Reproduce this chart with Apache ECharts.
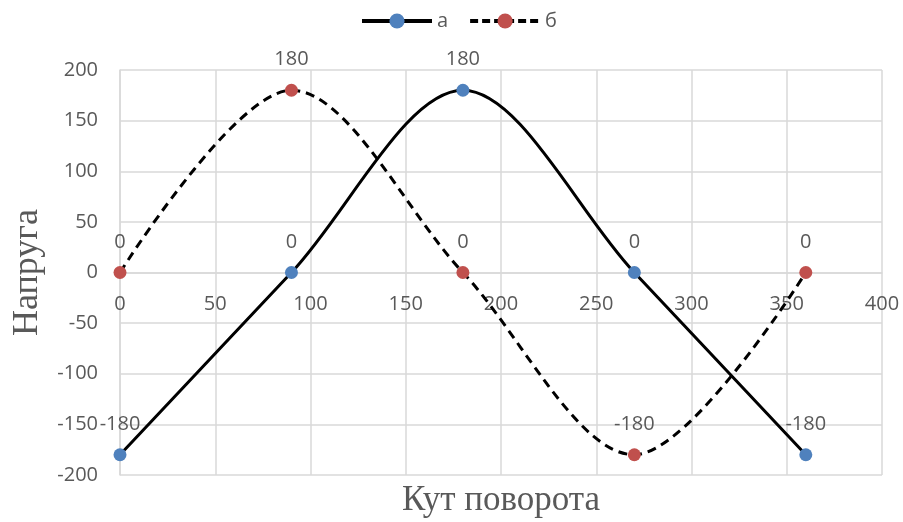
<!DOCTYPE html>
<html>
<head>
<meta charset="utf-8">
<script src="https://cdn.jsdelivr.net/npm/echarts@6/dist/echarts.min.js"></script>
<style>html,body{margin:0;padding:0;background:#fff;}#c{width:903px;height:522px;}</style>
</head>
<body>
<div id="c"></div>
<script>
const angles = [0, 90, 180, 270, 360];
const seriesA = [-180, 0, 180, 0, -180];
const seriesB = [0, 180, 0, -180, 0];
const nameA = 'а';
const nameB = 'б';
const xTitle = 'Кут поворота';
const yTitle = 'Напруга';
const xMin = 0, xMax = 400, xStep = 50;
const yMin = -200, yMax = 200, yStep = 50;

const W = 903, H = 522;
const G = {left: 120, right: 21, top: 70, bottom: 47};
const plotH = H - G.top - G.bottom;
// x axis crosses the y axis at value 0
const zeroOffset = -plotH * (0 - yMin) / (yMax - yMin);

const chart = echarts.init(document.getElementById('c'), null, {renderer: 'canvas'});
const tickFont = {fontFamily: 'Open Sans', fontSize: 20, color: '#595959'};
const gridColor = '#d9d9d9';
function mk(name, vals, color, dashed) {
  return {
    name: name, type: 'line', smooth: 0.33,
    xAxisIndex: 0, yAxisIndex: 0,
    data: angles.map((a, i) => [a, vals[i]]),
    symbol: 'circle', symbolSize: 13,
    itemStyle: {color: color},
    lineStyle: {color: '#000', width: 3, type: dashed ? [9, 6] : 'solid'},
    label: {show: true, position: 'top', distance: 14, fontFamily: 'Open Sans', fontSize: 20, color: '#595959',
      formatter: p => String(p.value[1])},
    emphasis: {disabled: true}, z: dashed ? 2 : 3
  };
}
chart.setOption({
  animation: false,
  legend: {
    left: 355, top: 6, itemWidth: 70, itemHeight: 19, itemGap: 20,
    textStyle: {fontFamily: 'Open Sans', fontSize: 20, color: '#595959'},
    data: [
      {name: nameA, lineStyle: {width: 4, color: '#000'}},
      {name: nameB, lineStyle: {width: 4, color: '#000', type: [8, 4]}}
    ]
  },
  grid: {left: G.left, right: G.right, top: G.top, bottom: G.bottom, containLabel: false, outerBoundsMode: 'none'},
  xAxis: [{
    type: 'value', min: xMin, max: xMax, interval: xStep,
    position: 'bottom', offset: zeroOffset,
    axisLine: {show: true, onZero: false, lineStyle: {color: gridColor, width: 1.5}},
    axisTick: {show: false},
    axisLabel: Object.assign({margin: 22}, tickFont),
    splitLine: {show: true, lineStyle: {color: gridColor, width: 1.5}}
  }, {
    type: 'value', min: xMin, max: xMax, interval: xStep,
    position: 'bottom',
    name: xTitle, nameLocation: 'middle', nameGap: 8,
    nameTextStyle: {fontFamily: 'Liberation Serif', fontSize: 35, color: '#595959'},
    axisLine: {show: false, onZero: false}, axisTick: {show: false},
    axisLabel: {show: false}, splitLine: {show: false}
  }],
  yAxis: {
    type: 'value', min: yMin, max: yMax, interval: yStep,
    name: yTitle, nameLocation: 'middle', nameGap: 74,
    nameTextStyle: {fontFamily: 'Liberation Serif', fontSize: 36, color: '#595959'},
    axisLine: {show: true, onZero: false, lineStyle: {color: gridColor, width: 1.5}},
    axisTick: {show: false},
    axisLabel: Object.assign({margin: 22}, tickFont),
    splitLine: {show: true, lineStyle: {color: gridColor, width: 1.5}}
  },
  series: [mk(nameA, seriesA, '#4F81BD', false), mk(nameB, seriesB, '#C0504D', true)]
});
</script>
</body>
</html>
